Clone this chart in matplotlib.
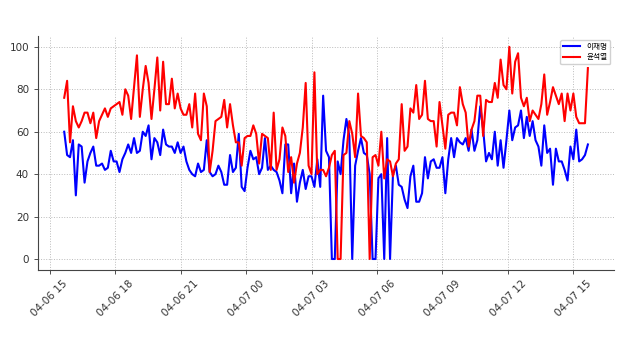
import matplotlib
matplotlib.use('Agg')
import matplotlib.pyplot as plt
import matplotlib.dates as mdates
import pandas as pd

# data: one sample every 8 minutes, 04-06 15:40 -> 04-07 15:40
start = '2022-04-06 15:40'
step = '8min'

lee = [60, 49, 48, 56, 30, 54, 53, 36, 46, 50, 53, 44, 44, 45, 42, 43, 51, 46, 46, 41, 47, 50, 54, 50, 57,
       50, 51, 60, 58, 63, 47, 57, 55, 49, 61, 54, 53, 53, 50, 55, 50, 53, 46, 42, 40, 39, 45, 41, 42, 56, 41,
       39, 40, 44, 41, 35, 35, 49, 41, 43, 59, 34, 32, 43, 51, 47, 48, 40, 43, 57, 42, 44, 42, 41, 37, 31, 54,
       54, 31, 45, 27, 36, 42, 33, 39, 39, 34, 47, 34, 77, 51, 48, 0, 0, 46, 40, 56, 66, 58, 0, 44, 51, 57,
       50, 49, 40, 0, 0, 38, 40, 0, 57, 0, 40, 44, 35, 34, 28, 24, 39, 44, 27, 27, 31, 48, 38, 46, 47, 43,
       43, 48, 31, 47, 57, 48, 57, 55, 54, 57, 51, 61, 51, 56, 72, 61, 46, 50, 47, 60, 44, 56, 43, 56, 70, 56,
       62, 63, 70, 57, 67, 58, 65, 56, 53, 44, 63, 50, 52, 35, 52, 46, 46, 42, 37, 53, 47, 61, 46, 47, 49, 54]

yoon = [76, 84, 55, 72, 65, 62, 65, 69, 69, 64, 69, 57, 65, 68, 71, 67, 71, 72, 73, 74, 68, 80, 77, 66, 81,
        96, 67, 80, 91, 83, 66, 80, 95, 70, 93, 73, 73, 85, 71, 78, 71, 68, 68, 73, 62, 78, 59, 56, 78, 72, 41,
        51, 65, 66, 67, 75, 62, 73, 63, 55, 55, 44, 57, 58, 58, 63, 59, 45, 59, 58, 57, 42, 69, 42, 47, 62, 58,
        41, 48, 36, 45, 50, 62, 83, 44, 40, 88, 40, 42, 42, 39, 43, 49, 51, 0, 0, 49, 50, 65, 59, 48, 78, 58,
        57, 55, 0, 48, 49, 44, 60, 38, 47, 46, 39, 45, 47, 73, 51, 53, 71, 69, 82, 66, 68, 84, 66, 65, 65, 53,
        74, 63, 52, 68, 69, 69, 63, 81, 73, 69, 53, 61, 65, 77, 77, 58, 75, 74, 74, 83, 76, 94, 82, 80, 100, 78,
        93, 97, 76, 72, 76, 65, 70, 68, 66, 73, 87, 68, 74, 81, 77, 73, 78, 65, 78, 70, 78, 67, 64, 64, 64, 90]

labels = ['이재명', '윤석열']
colors = ['blue', 'red']

times = pd.date_range(start, periods=len(lee), freq=step)

fig = plt.figure(figsize=(6.39, 3.59), dpi=100)
ax = fig.add_axes([0.0595, 0.249, 0.9015, 0.65])

for vals, lab, c in zip([lee, yoon], labels, colors):
    ax.plot(times, vals, color=c, linewidth=1.5, label=lab)

ax.set_yticks(range(0, 101, 20))
ax.xaxis.set_major_locator(mdates.HourLocator(byhour=range(0, 24, 3)))
ax.xaxis.set_major_formatter(mdates.DateFormatter('%m-%d %H'))
plt.setp(ax.get_xticklabels(), rotation=45, ha='center')
ax.tick_params(labelsize=7.5, length=3, width=0.6, colors='#333333')

ax.grid(True, linestyle=':', color='#bbbbbb', linewidth=0.7)
for s in ['top', 'right']:
    ax.spines[s].set_visible(False)
for s in ['left', 'bottom']:
    ax.spines[s].set_color('#444444')
    ax.spines[s].set_linewidth(0.8)

ax.legend(loc='upper right', prop={'family': ['Noto Sans CJK KR', 'DejaVu Sans'], 'size': 5.5},
          handlelength=2.2, borderpad=0.4, labelspacing=0.3, framealpha=0.9)

fig.savefig('out.png', dpi=100)
